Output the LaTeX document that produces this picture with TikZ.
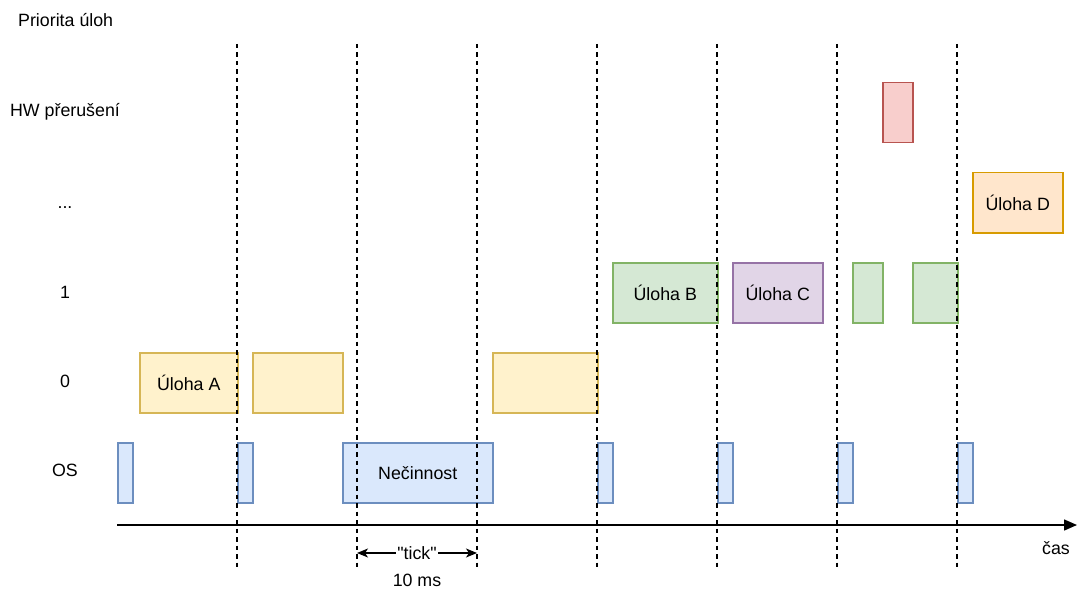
\documentclass[tikz,border=0pt]{standalone}
\usepackage{fontspec}
\setmainfont{Liberation Sans}
\usetikzlibrary{arrows.meta}
\definecolor{yfill}{HTML}{FFF2CC}\definecolor{ydraw}{HTML}{D6B656}
\definecolor{bfill}{HTML}{DAE8FC}\definecolor{bdraw}{HTML}{6C8EBF}
\definecolor{gfill}{HTML}{D5E8D4}\definecolor{gdraw}{HTML}{82B366}
\definecolor{pfill}{HTML}{E1D5E7}\definecolor{pdraw}{HTML}{9673A6}
\definecolor{rfill}{HTML}{F8CECC}\definecolor{rdraw}{HTML}{B85450}
\definecolor{ofill}{HTML}{FFE6CC}\definecolor{odraw}{HTML}{D79B00}
\tikzset{
  box/.style={draw, line width=1.5pt, inner sep=0pt, anchor=north west, minimum height=60pt},
  ybox/.style={box, fill=yfill, draw=ydraw},
  bbox/.style={box, fill=bfill, draw=bdraw},
  gbox/.style={box, fill=gfill, draw=gdraw},
  pbox/.style={box, fill=pfill, draw=pdraw},
  rbox/.style={box, fill=rfill, draw=rdraw},
  obox/.style={box, fill=ofill, draw=odraw},
  lbl/.style={inner sep=0pt},
  dline/.style={line width=1.5pt, dash pattern=on 4.5pt off 4pt},
}
\begin{document}
\begin{tikzpicture}[x=1pt,y=-1pt, font=\fontsize{17.8}{21}\selectfont]
\useasboundingbox (0,0) rectangle (1077,591);
% labels
\node[lbl, anchor=west] (prio) at (18,20) {Priorita úloh};
\node[lbl, anchor=base] (lhw) at (65,117) {HW přerušení};
\node[lbl, anchor=base] (ldots) at (65,208) {...};
\node[lbl] (l1) at (65,292) {1};
\node[lbl] (l0) at (65,381) {0};
\node[lbl] (los) at (65,470) {OS};
% OS row
\node[bbox, minimum width=15pt] (os1) at (117,442) {};
\node[bbox, minimum width=15pt] (os2) at (237,442) {};
\node[bbox, minimum width=150pt] (idle) at (342,442) {Nečinnost};
\node[bbox, minimum width=15pt] (os3) at (597,442) {};
\node[bbox, minimum width=15pt] (os4) at (717,442) {};
\node[bbox, minimum width=15pt] (os5) at (837,442) {};
\node[bbox, minimum width=15pt] (os6) at (957,442) {};
% row 0
\node[ybox, minimum width=98pt] (a1) at (139,352) {Úloha A};
\node[ybox, minimum width=90pt] (a2) at (252,352) {};
\node[ybox, minimum width=105pt] (a3) at (492,352) {};
% row 1
\node[gbox, minimum width=105pt] (b1) at (612,262) {Úloha B};
\node[pbox, minimum width=90pt] (c1) at (732,262) {Úloha C};
\node[gbox, minimum width=30pt] (b2) at (852,262) {};
\node[gbox, minimum width=45pt] (b3) at (912,262) {};
% ...
\node[obox, minimum width=90pt] (d1) at (972,172) {Úloha D};
% HW
\node[rbox, minimum width=30pt] (hw) at (882,82) {};
% dashed lines
\foreach \i/\x in {1/237,2/357,3/477,4/597,5/717,6/837,7/957}{
  \coordinate (t\i) at (\x,44);
  \coordinate (u\i) at (\x,570);
  \draw[dline] (t\i) -- (u\i);
}
% time axis
\coordinate (ax0) at (117,525);
\coordinate (ax1) at (1077,525);
\draw[line width=1.5pt, -{Triangle[length=13pt,width=11pt]}] (ax0) -- (ax1);
\node[lbl, anchor=east] (cas) at (1070,548) {čas};
% tick
\coordinate (tk0) at (357,553);
\coordinate (tk1) at (477,553);
\draw[line width=1.5pt, {Stealth[length=11pt,width=9pt,inset=3pt]}-{Stealth[length=11pt,width=9pt,inset=3pt]}] (tk0) -- (tk1)
  node[midway, fill=white, inner sep=1pt] (tick) {\textquotedbl tick\textquotedbl};
\node[lbl] (ms) at (417,580) {10 ms};
\end{tikzpicture}
\end{document}
